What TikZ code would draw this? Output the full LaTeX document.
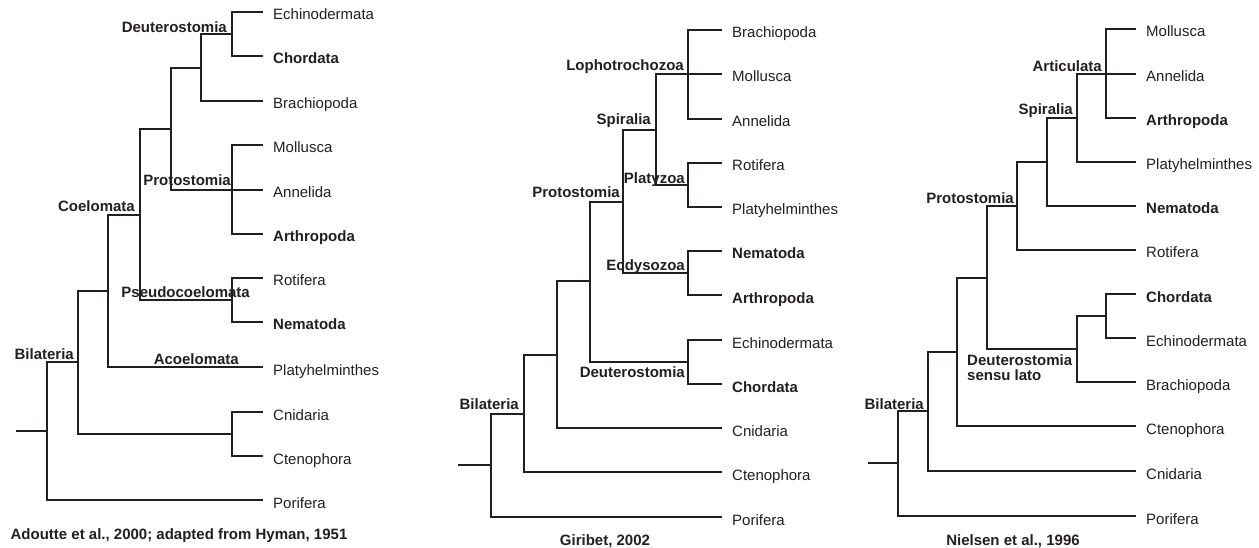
\documentclass[tikz,border=0pt]{standalone}
\usepackage{fontspec}
\setmainfont{Liberation Sans}
\definecolor{ink}{RGB}{35,31,32}
\tikzset{
  branch/.style={draw=ink, line width=2pt},
  taxon/.style={anchor=base west, inner sep=0pt, text=ink, font=\fontsize{15}{18}\selectfont},
  btaxon/.style={taxon, font=\fontsize{15}{18}\selectfont\bfseries},
  clade/.style={anchor=base east, inner sep=0pt, text=ink, font=\fontsize{15}{18}\selectfont\bfseries},
  cladeleft/.style={anchor=base west, inner sep=0pt, text=ink, font=\fontsize{15}{14.3}\selectfont\bfseries},
  caption/.style={anchor=base, inner sep=0pt, text=ink, font=\fontsize{15}{18}\selectfont\bfseries},
}
\newcommand{\leaf}[5]{\coordinate (#1) at (#2,#3); \node[#5] (#1-l) at (#2+10,#3+8) {#4};}
\begin{document}
\begin{tikzpicture}[x=1pt,y=-1pt]
\useasboundingbox (0,0) rectangle (1259,548);

% ---------------- Tree A ----------------
\leaf{A-echi}{263}{12}{Echinodermata}{taxon}
\leaf{A-chor}{263}{56}{Chordata}{btaxon}
\leaf{A-brac}{263}{101}{Brachiopoda}{taxon}
\leaf{A-moll}{263}{145}{Mollusca}{taxon}
\leaf{A-anne}{263}{190}{Annelida}{taxon}
\leaf{A-arth}{263}{234}{Arthropoda}{btaxon}
\leaf{A-roti}{263}{278}{Rotifera}{taxon}
\leaf{A-nema}{263}{322}{Nematoda}{btaxon}
\leaf{A-plat}{263}{367}{Platyhelminthes}{taxon}
\leaf{A-cnid}{263}{412}{Cnidaria}{taxon}
\leaf{A-cten}{263}{456}{Ctenophora}{taxon}
\leaf{A-pori}{263}{500}{Porifera}{taxon}
\coordinate (A-deut) at (232,34);
\coordinate (A-db) at (201,68);
\coordinate (A-prot) at (232,190);
\coordinate (A-ps) at (171,129);
\coordinate (A-pseu) at (232,300);
\coordinate (A-coel) at (140,215);
\coordinate (A-acoe) at (108,291);
\coordinate (A-cn) at (232,434);
\coordinate (A-bil) at (78,362);
\coordinate (A-root) at (47,431);
\coordinate (A-stub) at (16,431);
\draw[branch] (A-deut) |- (A-echi);
\draw[branch] (A-deut) |- (A-chor);
\draw[branch] (A-db) |- (A-deut);
\draw[branch] (A-db) |- (A-brac);
\draw[branch] (A-prot) |- (A-moll);
\draw[branch] (A-prot) |- (A-anne);
\draw[branch] (A-prot) |- (A-arth);
\draw[branch] (A-ps) |- (A-db);
\draw[branch] (A-ps) |- (A-prot);
\draw[branch] (A-pseu) |- (A-roti);
\draw[branch] (A-pseu) |- (A-nema);
\draw[branch] (A-coel) |- (A-ps);
\draw[branch] (A-coel) |- (A-pseu);
\draw[branch] (A-acoe) |- (A-coel);
\draw[branch] (A-acoe) |- (A-plat);
\draw[branch] (A-cn) |- (A-cnid);
\draw[branch] (A-cn) |- (A-cten);
\draw[branch] (A-bil) |- (A-acoe);
\draw[branch] (A-bil) |- (A-cn);
\draw[branch] (A-root) |- (A-bil);
\draw[branch] (A-root) |- (A-pori);
\draw[branch] (A-stub) -- (A-root);
\node[clade] (A-deut-l) at (227,33) {Deuterostomia};
\node[clade] (A-coel-l) at (135,212) {Coelomata};
\node[clade] (A-prot-l) at (231,185.7) {Protostomia};
\node[clade] (A-pseu-l) at (250,297.3) {Pseudocoelomata};
\node[clade] (A-acoe-l) at (239,364.3) {Acoelomata};
\node[clade] (A-bil-l) at (74,359.3) {Bilateria};
\node[caption] (A-cap) at (179,539.3) {Adoutte et al., 2000; adapted from Hyman, 1951};

% ---------------- Tree B ----------------
\leaf{B-brac}{722}{30}{Brachiopoda}{taxon}
\leaf{B-moll}{722}{74}{Mollusca}{taxon}
\leaf{B-anne}{722}{119}{Annelida}{taxon}
\leaf{B-roti}{722}{163}{Rotifera}{taxon}
\leaf{B-plat}{722}{207}{Platyhelminthes}{taxon}
\leaf{B-nema}{722}{251}{Nematoda}{btaxon}
\leaf{B-arth}{722}{295}{Arthropoda}{btaxon}
\leaf{B-echi}{722}{340}{Echinodermata}{taxon}
\leaf{B-chor}{722}{384}{Chordata}{btaxon}
\leaf{B-cnid}{722}{428}{Cnidaria}{taxon}
\leaf{B-cten}{722}{472}{Ctenophora}{taxon}
\leaf{B-pori}{722}{517}{Porifera}{taxon}
\coordinate (B-loph) at (688,74);
\coordinate (B-platy) at (688,185);
\coordinate (B-spir) at (656,130);
\coordinate (B-ecdy) at (688,273);
\coordinate (B-prot) at (623,202);
\coordinate (B-deut) at (688,362);
\coordinate (B-pd) at (590,281);
\coordinate (B-x) at (557,355);
\coordinate (B-bil) at (524,414);
\coordinate (B-root) at (491,465);
\coordinate (B-stub) at (458,465);
\draw[branch] (B-loph) |- (B-brac);
\draw[branch] (B-loph) |- (B-moll);
\draw[branch] (B-loph) |- (B-anne);
\draw[branch] (B-platy) |- (B-roti);
\draw[branch] (B-platy) |- (B-plat);
\draw[branch] (B-spir) |- (B-loph);
\draw[branch] (B-spir) |- (B-platy);
\draw[branch] (B-ecdy) |- (B-nema);
\draw[branch] (B-ecdy) |- (B-arth);
\draw[branch] (B-prot) |- (B-spir);
\draw[branch] (B-prot) |- (B-ecdy);
\draw[branch] (B-deut) |- (B-echi);
\draw[branch] (B-deut) |- (B-chor);
\draw[branch] (B-pd) |- (B-prot);
\draw[branch] (B-pd) |- (B-deut);
\draw[branch] (B-x) |- (B-pd);
\draw[branch] (B-x) |- (B-cnid);
\draw[branch] (B-bil) |- (B-x);
\draw[branch] (B-bil) |- (B-cten);
\draw[branch] (B-root) |- (B-bil);
\draw[branch] (B-root) |- (B-pori);
\draw[branch] (B-stub) -- (B-root);
\node[clade] (B-loph-l) at (684,71) {Lophotrochozoa};
\node[clade] (B-spir-l) at (651,125) {Spiralia};
\node[clade] (B-prot-l) at (620,197.3) {Protostomia};
\node[clade] (B-platy-l) at (685,183.3) {Platyzoa};
\node[clade] (B-ecdy-l) at (685,271) {Ecdysozoa};
\node[clade] (B-deut-l) at (685,377.3) {Deuterostomia};
\node[clade] (B-bil-l) at (519,409) {Bilateria};
\node[caption] (B-cap) at (605,545.3) {Giribet, 2002};

% ---------------- Tree C ----------------
\leaf{C-moll}{1136}{29}{Mollusca}{taxon}
\leaf{C-anne}{1136}{74}{Annelida}{taxon}
\leaf{C-arth}{1136}{118}{Arthropoda}{btaxon}
\leaf{C-plat}{1136}{162}{Platyhelminthes}{taxon}
\leaf{C-nema}{1136}{206}{Nematoda}{btaxon}
\leaf{C-roti}{1136}{250}{Rotifera}{taxon}
\leaf{C-chor}{1136}{294}{Chordata}{btaxon}
\leaf{C-echi}{1136}{338}{Echinodermata}{taxon}
\leaf{C-brac}{1136}{382}{Brachiopoda}{taxon}
\leaf{C-cten}{1136}{426}{Ctenophora}{taxon}
\leaf{C-cnid}{1136}{471}{Cnidaria}{taxon}
\leaf{C-pori}{1136}{516}{Porifera}{taxon}
\coordinate (C-art) at (1106,74);
\coordinate (C-spir) at (1077,118);
\coordinate (C-a) at (1047,162);
\coordinate (C-prot) at (1017,206);
\coordinate (C-ce) at (1106,316);
\coordinate (C-deut) at (1077,349);
\coordinate (C-pd) at (987,278);
\coordinate (C-x) at (957,352);
\coordinate (C-bil) at (928,411);
\coordinate (C-root) at (898,463);
\coordinate (C-stub) at (868,463);
\draw[branch] (C-art) |- (C-moll);
\draw[branch] (C-art) |- (C-anne);
\draw[branch] (C-art) |- (C-arth);
\draw[branch] (C-spir) |- (C-art);
\draw[branch] (C-spir) |- (C-plat);
\draw[branch] (C-a) |- (C-spir);
\draw[branch] (C-a) |- (C-nema);
\draw[branch] (C-prot) |- (C-a);
\draw[branch] (C-prot) |- (C-roti);
\draw[branch] (C-ce) |- (C-chor);
\draw[branch] (C-ce) |- (C-echi);
\draw[branch] (C-deut) |- (C-ce);
\draw[branch] (C-deut) |- (C-brac);
\draw[branch] (C-pd) |- (C-prot);
\draw[branch] (C-pd) |- (C-deut);
\draw[branch] (C-x) |- (C-pd);
\draw[branch] (C-x) |- (C-cten);
\draw[branch] (C-bil) |- (C-x);
\draw[branch] (C-bil) |- (C-cnid);
\draw[branch] (C-root) |- (C-bil);
\draw[branch] (C-root) |- (C-pori);
\draw[branch] (C-stub) -- (C-root);
\node[clade] (C-art-l) at (1102,71.7) {Articulata};
\node[clade] (C-spir-l) at (1073,115) {Spiralia};
\node[clade] (C-prot-l) at (1014,203.3) {Protostomia};
\node[cladeleft] (C-deut-l) at (967,365) {\begin{tabular}[t]{@{}l@{}}Deuterostomia\\sensu lato\end{tabular}};
\node[clade] (C-bil-l) at (924,409) {Bilateria};
\node[caption] (C-cap) at (1013,545.7) {Nielsen et al., 1996};
\end{tikzpicture}
\end{document}
